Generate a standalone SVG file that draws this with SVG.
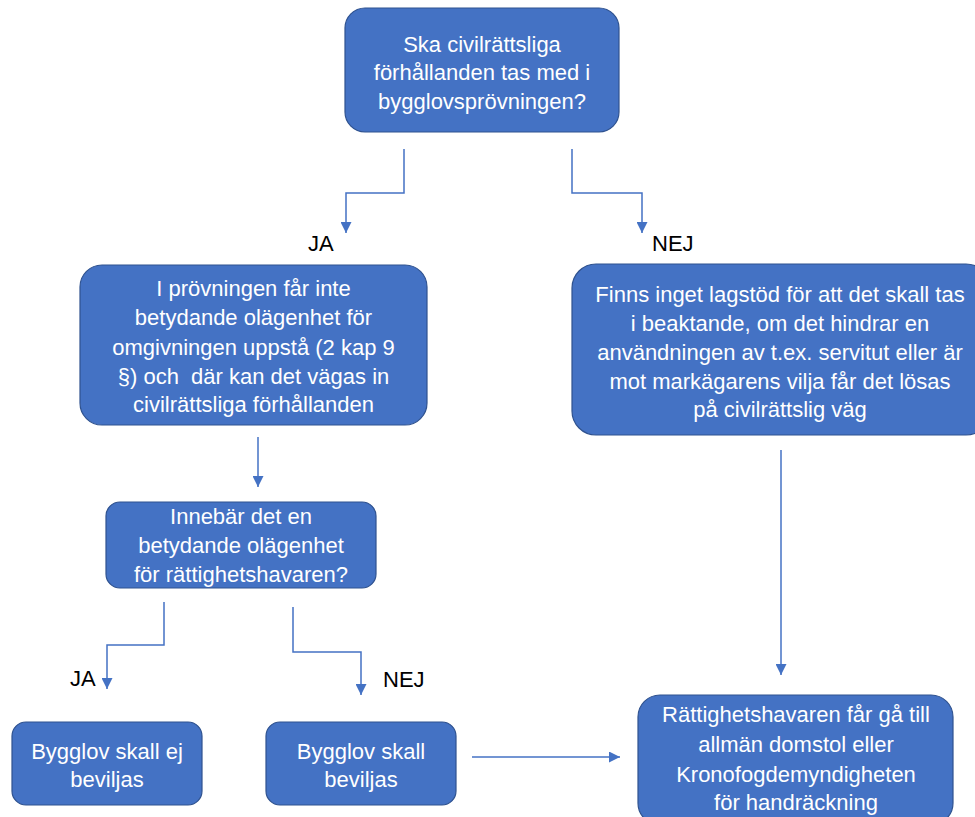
<svg xmlns="http://www.w3.org/2000/svg" width="975" height="817" viewBox="0 0 975 817">
<style>
.box{fill:#4472C4;stroke:#2F528F;stroke-width:1.2}
.t{font-family:"Liberation Sans",Arial,sans-serif;font-size:22px;fill:#ffffff;text-anchor:middle}
.lbl{font-family:"Liberation Sans",Arial,sans-serif;font-size:22px;fill:#000000}
.c{fill:none;stroke:#4472C4;stroke-width:1.5}
</style>
<defs>
<marker id="ah" markerUnits="userSpaceOnUse" markerWidth="11" markerHeight="11" viewBox="0 0 11 11" refX="11" refY="5.5" orient="auto">
<path d="M0,0 L11,5.5 L0,11 Z" fill="#4472C4"/>
</marker>
</defs>
<rect width="975" height="817" fill="#ffffff"/>
<g id="connectors">
<path class="c" d="M404,149 V193 H346 V233" marker-end="url(#ah)"/>
<path class="c" d="M572,149 V193 H642 V233" marker-end="url(#ah)"/>
<path class="c" d="M258,437 V487" marker-end="url(#ah)"/>
<path class="c" d="M164,602 V645 H107 V689" marker-end="url(#ah)"/>
<path class="c" d="M293,607 V652 H361 V695" marker-end="url(#ah)"/>
<path class="c" d="M781,450 V675" marker-end="url(#ah)"/>
<path class="c" d="M472,757 H620" marker-end="url(#ah)"/>
</g>
<g id="labels">
<text class="lbl" x="308" y="251">JA</text>
<text class="lbl" x="652" y="251">NEJ</text>
<text class="lbl" x="70" y="686">JA</text>
<text class="lbl" x="383" y="687">NEJ</text>
</g>
<g id="n1">
<rect class="box" x="345" y="8" width="274" height="124" rx="20"/>
<text class="t" x="482" y="52">Ska civilrättsliga</text>
<text class="t" x="482" y="80">förhållanden tas med i</text>
<text class="t" x="482" y="109">bygglovsprövningen?</text>
</g>
<g id="n2">
<rect class="box" x="80" y="265" width="347" height="160" rx="22"/>
<text class="t" x="253.5" y="296">I prövningen får inte</text>
<text class="t" x="253.5" y="325">betydande olägenhet för</text>
<text class="t" x="253.5" y="355">omgivningen uppstå (2 kap 9</text>
<text class="t" x="253.5" y="384" xml:space="preserve">§) och  där kan det vägas in</text>
<text class="t" x="253.5" y="412">civilrättsliga förhållanden</text>
</g>
<g id="n3">
<rect class="box" x="572" y="264" width="418" height="171" rx="24"/>
<text class="t" x="780" y="302">Finns inget lagstöd för att det skall tas</text>
<text class="t" x="780" y="331">i beaktande, om det hindrar en</text>
<text class="t" x="780" y="360">användningen av t.ex. servitut eller är</text>
<text class="t" x="780" y="389">mot markägarens vilja får det lösas</text>
<text class="t" x="780" y="417">på civilrättslig väg</text>
</g>
<g id="n4">
<rect class="box" x="106" y="502" width="270" height="86" rx="14"/>
<text class="t" x="241" y="524">Innebär det en</text>
<text class="t" x="241" y="553">betydande olägenhet</text>
<text class="t" x="241" y="582">för rättighetshavaren?</text>
</g>
<g id="n5">
<rect class="box" x="12" y="722" width="190" height="83" rx="14"/>
<text class="t" x="107" y="759">Bygglov skall ej</text>
<text class="t" x="107" y="787">beviljas</text>
</g>
<g id="n6">
<rect class="box" x="266" y="722" width="190" height="83" rx="14"/>
<text class="t" x="361" y="759">Bygglov skall</text>
<text class="t" x="361" y="787">beviljas</text>
</g>
<g id="n7">
<rect class="box" x="638" y="695" width="315" height="130" rx="22"/>
<text class="t" x="796" y="722">Rättighetshavaren får gå till</text>
<text class="t" x="796" y="752">allmän domstol eller</text>
<text class="t" x="796" y="782">Kronofogdemyndigheten</text>
<text class="t" x="796" y="810">för handräckning</text>
</g>
</svg>
